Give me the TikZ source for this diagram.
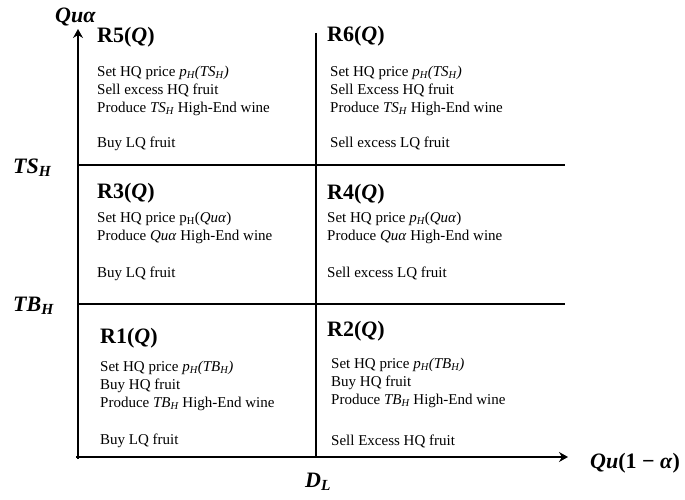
\documentclass[tikz,border=0pt]{standalone}
\usepackage{fontspec}
\setmainfont{Liberation Serif}
\usepackage{tikz}
\usetikzlibrary{arrows.meta}
\usetikzlibrary{positioning}
\newcommand{\pH}[1]{\textit{p\textsubscript{H}(#1)}}
\newcommand{\TSH}{\textit{TS\textsubscript{H}}}
\newcommand{\TBH}{\textit{TB\textsubscript{H}}}
\newcommand{\Qua}{\textit{Quα}}

\begin{document}
\begin{tikzpicture}[
x=1pt,y=-1pt,
AxisLine/.style={line width=1.8pt,-{Stealth[length=9pt,width=10pt,inset=3pt]}},
GridLine/.style={line width=1.1pt},
RegionTitle/.style={anchor=base west,inner sep=0pt,font=\fontsize{22}{26}\selectfont\bfseries},
RegionText/.style={anchor=north west,inner sep=0pt,align=left,font=\fontsize{15}{18}\selectfont},
AxisLabel/.style={anchor=base west,inner sep=0pt,font=\fontsize{22}{26}\selectfont\bfseries\itshape}
]
\useasboundingbox (0,0) rectangle (685,500);

% axes and thresholds
\coordinate (O) at (78,457);
\coordinate (Xstart) at (76,457);
\coordinate (Xend) at (568,457);
\coordinate (Ystart) at (78,459);
\coordinate (Yend) at (78,29);
\coordinate (DLtop) at (316,33);
\coordinate (DLbot) at (316,457);
\coordinate (TSl) at (78,165);
\coordinate (TSr) at (565,165);
\coordinate (TBl) at (78,304);
\coordinate (TBr) at (565,304);

\draw[GridLine] (DLtop)--(DLbot);
\draw[GridLine] (TSl)--(TSr);
\draw[GridLine] (TBl)--(TBr);
\draw[AxisLine] (Xstart)--(Xend);
\draw[AxisLine] (Ystart)--(Yend);

\node[AxisLabel] (qua) at (55,23) {Quα};
\node[AxisLabel] (tsh) at (13,173) {TS\textsubscript{H}};
\node[AxisLabel] (tbh) at (13,311) {TB\textsubscript{H}};
\node[AxisLabel] (dl) at (305,487) {D\textsubscript{L}};
\node[AxisLabel,font=\fontsize{22}{26}\selectfont\bfseries] (qux) at (590,468)
{\textit{Qu}(1 − \textit{α})};

% top row
\node[RegionTitle] (r5) at (97,43) {R5(\textit{Q})};
\node[RegionText] (r5txt) at (97,65.5) {Set HQ price \pH{TS\textsubscript{H}}\\
Sell excess HQ fruit\\
Produce \TSH{} High-End wine\\[17pt]
Buy LQ fruit};

\node[RegionTitle] (r6) at (327,42) {R6(\textit{Q})};
\node[RegionText] (r6txt) at (330,65.5) {Set HQ price \pH{TS\textsubscript{H}}\\
Sell Excess HQ fruit\\
Produce \TSH{} High-End wine\\[17pt]
Sell excess LQ fruit};

% middle row
\node[RegionTitle] (r3) at (97,198) {R3(\textit{Q})};
\node[RegionText] (r3txt) at (97,211.5) {Set HQ price p\textsubscript{H}(\Qua)\\
Produce \Qua{} High-End wine\\[19pt]
Buy LQ fruit};

\node[RegionTitle] (r4) at (327,199) {R4(\textit{Q})};
\node[RegionText] (r4txt) at (327,211.5) {Set HQ price \textit{p\textsubscript{H}}(\Qua)\\
Produce \Qua{} High-End wine\\[19pt]
Sell excess LQ fruit};

% bottom row
\node[RegionTitle] (r1) at (100,343) {R1(\textit{Q})};
\node[RegionText] (r1txt) at (100,360.5) {Set HQ price \pH{TB\textsubscript{H}}\\
Buy HQ fruit\\
Produce \TBH{} High-End wine\\[19pt]
Buy LQ fruit};

\node[RegionTitle] (r2) at (327,336) {R2(\textit{Q})};
\node[RegionText] (r2txt) at (331,357.5) {Set HQ price \pH{TB\textsubscript{H}}\\
Buy HQ fruit\\
Produce \TBH{} High-End wine\\[23pt]
Sell Excess HQ fruit};

\end{tikzpicture}
\end{document}
